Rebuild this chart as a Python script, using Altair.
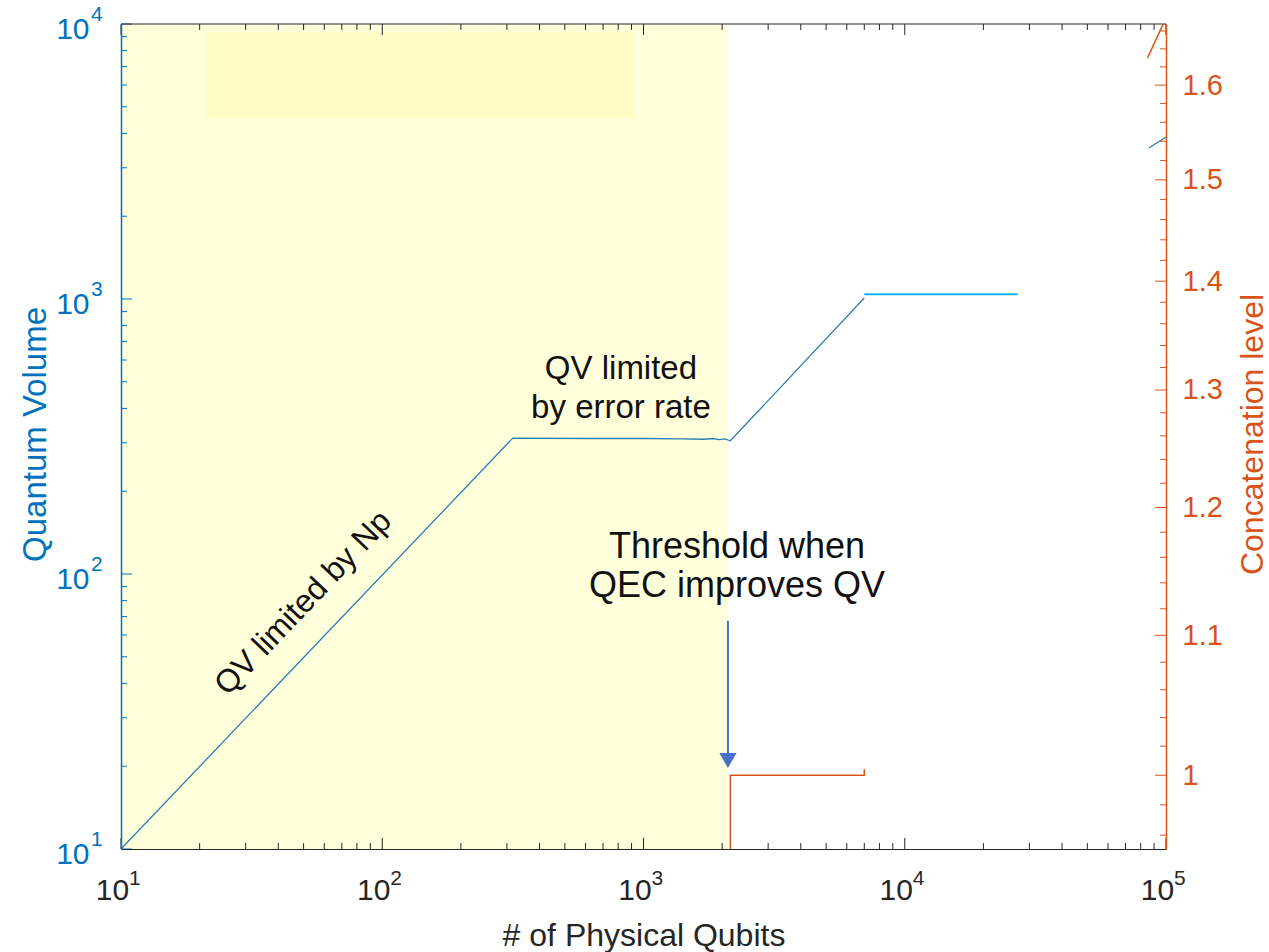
import altair as alt
import pandas as pd

BLUE = "#0072BD"
ORANGE = "#D95319"
DARK = "#262626"
FONT = "Liberation Sans"

# ---- data ----
qv_x = [10, 316, 600, 1000, 1400, 1700, 1850, 1950, 2050, 2150, 7000]
qv_y = [10, 312, 311, 311, 310, 309, 311, 308, 310, 305, 1008]
plateau_x = [7000, 27100]
plateau_y = [1040, 1040]
tail_x = [86000, 100000]
tail_y = [3540, 3880]

conc_x = [2150, 2150, 7000, 7000]
conc_y = [0.90, 1.0, 1.0, 1.004]
conc_tail_x = [85000, 100000]
conc_tail_y = [1.63, 1.675]

shade_x = [10, 2100]
shade_y = [10, 10000]
inner_x = [21.3, 912]
inner_y = [4550, 9360]

ann1_text = ["QV limited", "by error rate"]
ann1_x = [820, 820]
ann1_y = [512, 369]
ann2_text = ["Threshold when", "QEC improves QV"]
ann2_x = [2280, 2280]
ann2_y = [114, 82.4]
rot_text = ["QV limited by Np"]
rot_x = [49.8]
rot_y = [78.5]

arrow_x = [2105]
arrow_top = [67.5]
arrow_bottom = [22.1]
arrow_head = [21.0]

x_major = [10, 100, 1000, 10000, 100000]
x_exp = ["1", "2", "3", "4", "5"]
x_minor = [m * 10 ** k for k in range(1, 5) for m in range(2, 10)]
y_major = [10, 100, 1000, 10000]
y_exp = ["1", "2", "3", "4"]
y_minor = [m * 10 ** k for k in range(1, 4) for m in range(2, 10)]
r_all = [round(0.96 + 0.02 * i, 2) for i in range(36)]
r_major = [1.0, 1.1, 1.2, 1.3, 1.4, 1.5, 1.6]
r_minor = [v for v in r_all if all(abs(v - m) > 1e-6 for m in r_major)]

W, H = 1045, 825
MAJ, MIN = 11, 6

xs = alt.Scale(type="log", domain=[10, 100000], nice=False)
ys = alt.Scale(type="log", domain=[10, 10000], nice=False)
rs = alt.Scale(type="log", domain=[0.951, 1.668], nice=False)

axis_x = alt.Axis(values=x_major, labelExpr="'10'", labelFontSize=30, labelColor=DARK,
                  labelFont=FONT, labelOffset=-9, labelPadding=26, tickSize=0, ticks=False,
                  domainColor=DARK, domainWidth=1, grid=False,
                  title="# of Physical Qubits", titleFont=FONT, titleFontSize=32,
                  titleFontWeight="normal", titleColor=DARK, titleY=86, titleBaseline="middle",
                  labelFlush=False, labelOverlap=False, zindex=1)
axis_y = alt.Axis(values=y_major, labelExpr="'10'", labelFontSize=30, labelColor=BLUE,
                  labelFont=FONT, labelPadding=32, labelOffset=5, labelBaseline="middle",
                  tickSize=0, ticks=False, domainColor=BLUE, domainWidth=1.5, grid=False,
                  title="Quantum Volume", titleFont=FONT, titleFontSize=33,
                  titleFontWeight="normal", titleColor=BLUE, titleAngle=270, titleX=-86,
                  titleY=410, titleBaseline="middle", titleAlign="center",
                  labelFlush=False, labelOverlap=False, zindex=1)
axis_r = alt.Axis(orient="right", values=r_major, format=".1~f", labelFontSize=29,
                  labelFont=FONT, labelColor=ORANGE, labelPadding=16, tickSize=0, ticks=False,
                  domainColor=ORANGE, domainWidth=1.5, grid=False,
                  title="Concatenation level", titleFont=FONT, titleFontSize=32,
                  titleFontWeight="normal", titleColor=ORANGE, titleAngle=270, titleX=86,
                  titleY=410, titleBaseline="middle", titleAlign="center",
                  labelFlush=False, labelOverlap=False, zindex=1)


def X(f, axis=None):
    if axis is None:
        return alt.X(f, type="quantitative", scale=xs)
    return alt.X(f, type="quantitative", scale=xs, axis=axis)


def Y(f, axis=None):
    if axis is None:
        return alt.Y(f, type="quantitative", scale=ys)
    return alt.Y(f, type="quantitative", scale=ys, axis=axis)


def R(f, axis=None):
    if axis is None:
        return alt.Y(f, type="quantitative", scale=rs)
    return alt.Y(f, type="quantitative", scale=rs, axis=axis)


shade = alt.Chart(pd.DataFrame({"x0": [shade_x[0]], "x1": [shade_x[1]],
                                "y0": [shade_y[0]], "y1": [shade_y[1]]})).mark_rect(
    color="#FFFFDC").encode(x=X("x0", axis_x), x2="x1", y=Y("y0", axis_y), y2="y1")
inner = alt.Chart(pd.DataFrame({"x0": [inner_x[0]], "x1": [inner_x[1]],
                                "y0": [inner_y[0]], "y1": [inner_y[1]]})).mark_rect(
    color="#FFFCC6").encode(x=X("x0"), x2="x1", y=Y("y0"), y2="y1")

qv = alt.Chart(pd.DataFrame({"x": qv_x, "y": qv_y, "o": list(range(len(qv_x)))})).mark_line(
    color="#2F7DB5", strokeWidth=1.3, clip=True).encode(x=X("x"), y=Y("y"), order="o:Q")
plateau = alt.Chart(pd.DataFrame({"x": plateau_x, "y": plateau_y})).mark_line(
    color="#12B4F0", strokeWidth=2, clip=True).encode(x=X("x"), y=Y("y"))
tail = alt.Chart(pd.DataFrame({"x": tail_x, "y": tail_y})).mark_line(
    color="#2F7DB5", strokeWidth=1.3, clip=True).encode(x=X("x"), y=Y("y"))

arrow_df = pd.DataFrame({"x": arrow_x, "y0": arrow_top, "y1": arrow_bottom, "yh": arrow_head})
arrow_rule = alt.Chart(arrow_df).mark_rule(color="#4472C4", strokeWidth=2).encode(
    x=X("x"), y=Y("y0"), y2="y1")
arrow_tip = alt.Chart(arrow_df).mark_point(shape="triangle-down", filled=True, size=300,
                                          color="#4472C4", opacity=1).encode(x=X("x"), y=Y("yh"))

ann1 = alt.Chart(pd.DataFrame({"t": ann1_text, "x": ann1_x, "y": ann1_y})).mark_text(
    fontSize=33, color="#111111", align="center", baseline="alphabetic", font=FONT).encode(
    x=X("x"), y=Y("y"), text="t:N")
ann2 = alt.Chart(pd.DataFrame({"t": ann2_text, "x": ann2_x, "y": ann2_y})).mark_text(
    fontSize=36, color="#111111", align="center", baseline="alphabetic", font=FONT).encode(
    x=X("x"), y=Y("y"), text="t:N")
rot = alt.Chart(pd.DataFrame({"t": rot_text, "x": rot_x, "y": rot_y})).mark_text(
    fontSize=32, color="#111111", align="center", baseline="middle", angle=313.5, font=FONT).encode(
    x=X("x"), y=Y("y"), text="t:N")

xmaj_df = pd.DataFrame({"v": x_major})
xmin_df = pd.DataFrame({"v": x_minor})
xt_bm = alt.Chart(xmaj_df).mark_rule(color=DARK).encode(x=X("v"), y=alt.value(H), y2=alt.value(H - MAJ))
xt_bn = alt.Chart(xmin_df).mark_rule(color=DARK).encode(x=X("v"), y=alt.value(H), y2=alt.value(H - MIN))
xt_tm = alt.Chart(xmaj_df).mark_rule(color=DARK).encode(x=X("v"), y=alt.value(0), y2=alt.value(MAJ))
xt_tn = alt.Chart(xmin_df).mark_rule(color=DARK).encode(x=X("v"), y=alt.value(0), y2=alt.value(MIN))
yt_m = alt.Chart(pd.DataFrame({"v": y_major})).mark_rule(color=BLUE).encode(
    y=Y("v"), x=alt.value(0), x2=alt.value(MAJ))
yt_n = alt.Chart(pd.DataFrame({"v": y_minor})).mark_rule(color=BLUE).encode(
    y=Y("v"), x=alt.value(0), x2=alt.value(MIN))

xexp = alt.Chart(pd.DataFrame({"v": x_major, "e": x_exp})).mark_text(
    align="left", baseline="middle", fontSize=21, color=DARK, dx=8, font=FONT).encode(
    x=X("v"), y=alt.value(855), text="e:N")
yexp = alt.Chart(pd.DataFrame({"v": y_major, "e": y_exp})).mark_text(
    align="left", baseline="middle", fontSize=21, color=BLUE, dy=-9, font=FONT).encode(
    y=Y("v"), x=alt.value(-30), text="e:N")

top_border = alt.Chart(pd.DataFrame({"v": [0]})).mark_rule(color=DARK, strokeWidth=1).encode(
    x=alt.value(0), x2=alt.value(W), y=alt.value(0))

left = alt.layer(shade, inner, qv, plateau, tail, arrow_rule, arrow_tip, ann1, ann2, rot,
                 xt_bm, xt_bn, xt_tm, xt_tn, yt_m, yt_n, xexp, yexp, top_border)

conc = alt.Chart(pd.DataFrame({"x": conc_x, "y": conc_y, "o": list(range(len(conc_x)))})).mark_line(
    color=ORANGE, strokeWidth=1.5, clip=True).encode(x=X("x"), y=R("y", axis_r), order="o:Q")
conc_tail = alt.Chart(pd.DataFrame({"x": conc_tail_x, "y": conc_tail_y})).mark_line(
    color=ORANGE, strokeWidth=1.5, clip=True).encode(x=X("x"), y=R("y"))
rt_m = alt.Chart(pd.DataFrame({"v": r_major})).mark_rule(color=ORANGE).encode(
    y=R("v"), x=alt.value(W), x2=alt.value(W - MAJ))
rt_n = alt.Chart(pd.DataFrame({"v": r_minor})).mark_rule(color=ORANGE).encode(
    y=R("v"), x=alt.value(W), x2=alt.value(W - MIN))

right = alt.layer(conc, conc_tail, rt_m, rt_n)

chart = alt.layer(left, right).resolve_scale(y="independent").properties(
    width=W, height=H,
    autosize=alt.AutoSizeParams(type="none"),
    padding={"left": 121, "top": 24, "right": 103, "bottom": 103},
    background="white",
).configure(font=FONT).configure_view(strokeWidth=0)

chart.save("out.html", embed_options={"renderer": "svg", "actions": False})
